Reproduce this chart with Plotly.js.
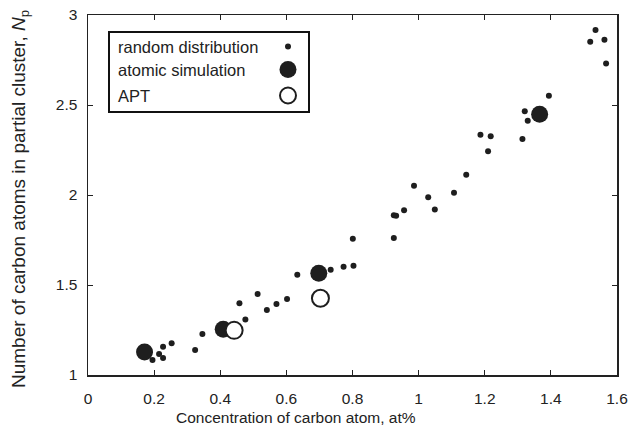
<!DOCTYPE html>
<html>
<head>
<meta charset="utf-8">
<script src="https://cdn.plot.ly/plotly-3.0.1.min.js"></script>
<style>html,body{margin:0;padding:0;background:#fff;}#chart{width:634px;height:434px;}</style>
</head>
<body>
<div id="chart"></div>
<script>
// random distribution
const randomX = [1.535, 1.519, 1.562, 1.567, 1.394, 1.321, 1.330, 1.314, 1.187, 1.218, 1.210, 1.144, 0.986, 1.029, 1.107,
  0.956, 0.925, 0.932, 1.049, 0.925, 0.801, 0.773, 0.803, 0.734, 0.633, 0.602, 0.570, 0.541, 0.513, 0.458, 0.476,
  0.346, 0.324, 0.253, 0.227, 0.215, 0.227, 0.195];
const randomY = [2.917, 2.852, 2.863, 2.730, 2.552, 2.465, 2.413, 2.311, 2.335, 2.326, 2.243, 2.113, 2.052, 1.987, 2.013,
  1.915, 1.887, 1.885, 1.919, 1.761, 1.757, 1.602, 1.607, 1.585, 1.557, 1.422, 1.394, 1.361, 1.450, 1.398, 1.309,
  1.228, 1.139, 1.176, 1.157, 1.117, 1.094, 1.083];
// atomic simulation
const simX = [0.171, 0.409, 0.698, 1.366];
const simY = [1.128, 1.254, 1.565, 2.448];
// APT
const aptX = [0.442, 0.703];
const aptY = [1.248, 1.426];

const xTicks = [0, 0.2, 0.4, 0.6, 0.8, 1, 1.2, 1.4, 1.6];
const xTickText = ['0', '0.2', '0.4', '0.6', '0.8', '1', '1.2', '1.4', '1.6'];
const yTicks = [1, 1.5, 2, 2.5, 3];
const yTickText = ['1', '1.5', '2', '2.5', '3'];

const legendNames = ['random distribution', 'atomic simulation', 'APT'];
const xTitle = 'Concentration of carbon atom, at%';
const yTitle = 'Number of carbon atoms in partial cluster, <i>N</i><sub>p</sub>';

const dark = '#1e1e1e';
const fam = 'Liberation Sans, Arial, sans-serif';
const tickFont = {family: fam, size: 15.5, color: '#222'};
const legFont = {family: fam, size: 16.5, color: '#222'};

const traces = [
  {x: randomX, y: randomY, mode: 'markers', type: 'scatter', name: legendNames[0],
   marker: {size: 6, color: dark, line: {width: 0}}},
  {x: simX, y: simY, mode: 'markers', type: 'scatter', name: legendNames[1],
   marker: {size: 17, color: dark, line: {width: 0}}},
  {x: aptX, y: aptY, mode: 'markers', type: 'scatter', name: legendNames[2],
   marker: {size: 17, color: '#fff', line: {width: 2, color: dark}}}
];

const W = 634, H = 434, mL = 88, mR = 17, mT = 15, mB = 59;
const pw = W - mL - mR, ph = H - mT - mB;
const px = v => (v - mL) / pw;
const py = v => 1 - (v - mT) / ph;

// manual legend (symbols on the right, as in the reference)
const legendRows = [47, 70, 96];
const annotations = legendNames.map((t, i) => ({
  xref: 'paper', yref: 'paper', x: px(116), y: py(legendRows[i]), xanchor: 'left', yanchor: 'middle',
  text: t, showarrow: false, font: legFont
}));
annotations.push({
  xref: 'paper', yref: 'paper', x: px(296), y: py(417), xanchor: 'center', yanchor: 'middle',
  text: xTitle, showarrow: false, font: {family: fam, size: 15.5, color: '#222'}
});
annotations.push({
  xref: 'paper', yref: 'paper', x: px(20), y: py(199), xanchor: 'center', yanchor: 'middle',
  text: yTitle, textangle: -90, showarrow: false, font: {family: fam, size: 19, color: '#222'}
});

const shapes = [
  {type: 'rect', xref: 'paper', yref: 'paper', x0: px(109), x1: px(309), y0: py(32), y1: py(112),
   line: {color: '#111', width: 2}, fillcolor: 'rgba(0,0,0,0)'},
  {type: 'circle', xref: 'paper', yref: 'paper', x0: px(285), x1: px(291), y0: py(43.5), y1: py(49.5),
   line: {width: 0}, fillcolor: dark},
  {type: 'circle', xref: 'paper', yref: 'paper', x0: px(279.5), x1: px(296.5), y0: py(61), y1: py(78),
   line: {width: 0}, fillcolor: dark},
  {type: 'circle', xref: 'paper', yref: 'paper', x0: px(280), x1: px(296), y0: py(87.5), y1: py(103.5),
   line: {width: 2, color: dark}, fillcolor: '#fff'}
];

const axisCommon = {
  showgrid: false, zeroline: false, showline: true, linecolor: '#222', linewidth: 1.5,
  mirror: 'ticks', ticks: 'inside', ticklen: 5, tickwidth: 1, tickcolor: '#222',
  tickfont: tickFont
};

const layout = {
  width: W, height: H,
  margin: {l: mL, r: mR, t: mT, b: mB},
  paper_bgcolor: '#fff', plot_bgcolor: '#fff',
  showlegend: false,
  font: tickFont,
  xaxis: Object.assign({}, axisCommon, {
    range: [0, 1.6], tickmode: 'array', tickvals: xTicks, ticktext: xTickText,
    ticklabelstandoff: 9, automargin: false
  }),
  yaxis: Object.assign({}, axisCommon, {
    range: [1, 3], tickmode: 'array', tickvals: yTicks, ticktext: yTickText,
    ticklabelstandoff: 6, automargin: false
  }),
  annotations: annotations,
  shapes: shapes
};

Plotly.newPlot('chart', traces, layout, {displayModeBar: false, staticPlot: true});
</script>
</body>
</html>
